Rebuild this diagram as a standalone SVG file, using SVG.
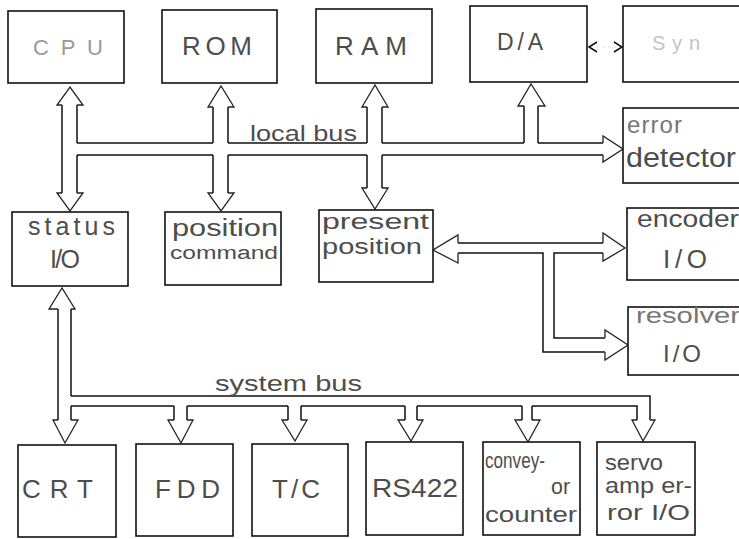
<svg xmlns="http://www.w3.org/2000/svg" width="739" height="539" viewBox="0 0 739 539">
<style>
  .bx{fill:#fff;stroke:#111;stroke-width:1.6}
  .ln{fill:none;stroke:#111;stroke-width:1.5;stroke-linejoin:miter}
  .hd{fill:#fff;stroke:#222;stroke-width:1.3;stroke-linejoin:miter}
  .t{font-family:"Liberation Sans",Arial,sans-serif;fill:#4d4d4d}
  .faint{fill:#9a9a9a}
</style>
<rect width="739" height="539" fill="#fff"/>

<g id="connectors">
  <!-- local bus -->
  <path class="ln" d="M62,105 V193 M77,105 V143 M77,155 V193"/>
  <path class="hd" d="M62,105 H57 L70,87 L83,105 H77"/>
  <path class="hd" d="M62,193 H57 L70,211 L83,193 H77"/>
  <path class="ln" d="M213,107 V143 M228,107 V143 M213,155 V193 M228,155 V193"/>
  <path class="hd" d="M213,107 H208 L221,86 L234,107 H228"/>
  <path class="hd" d="M213,193 H208 L221,211 L234,193 H228"/>
  <path class="ln" d="M367,107 V143 M382,107 V143 M367,155 V188 M382,155 V188"/>
  <path class="hd" d="M367,107 H362 L375,85 L388,107 H382"/>
  <path class="hd" d="M367,188 H362 L375,209 L388,188 H382"/>
  <path class="ln" d="M524,106 V143 M538,106 V143"/>
  <path class="hd" d="M524,106 H518 L531,84 L545,106 H538"/>
  <path class="ln" d="M77,143 H213 M228,143 H367 M382,143 H524 M538,143 H603"/>
  <path class="ln" d="M77,155 H213 M228,155 H367 M382,155 H603"/>
  <path class="hd" d="M603,143 V136 L623,149 L603,162 V155"/>
  <!-- D/A <-> Syn -->
  <path fill="none" stroke="#e2e2e2" stroke-width="1" stroke-dasharray="3 3" d="M590,47 H621"/>
  <path class="ln" stroke-width="1.1" d="M597,42 L589,47 L597,52 M614,42 L622,47 L614,52"/>
  <!-- present position bus -->
  <path class="ln" d="M458,243 H603 M458,253 H543 V352 H605 M603,253 H554 V338 H605"/>
  <path class="hd" d="M458,243 V235 L433,250 L458,263 V253"/>
  <path class="hd" d="M603,243 V233 L625,248 L603,261 V253"/>
  <path class="hd" d="M605,338 V330 L628,345 L605,360 V352"/>
  <!-- system bus -->
  <path class="ln" d="M58,309 V420 M71,309 V396 M71,406 V420"/>
  <path class="hd" d="M58,309 H49 L62,288 L75,309 H71"/>
  <path class="hd" d="M58,420 H53 L65,443 L78,420 H71"/>
  <path class="ln" d="M71,396 H650 V420"/>
  <path class="ln" d="M71,406 H174 M187,406 H288 M301,406 H405 M417,406 H522 M532,406 H637 V420"/>
  <path class="ln" d="M174,406 V420 M187,406 V420 M288,406 V420 M301,406 V420 M405,406 V420 M417,406 V420 M522,406 V420 M532,406 V420"/>
  <path class="hd" d="M174,420 H168 L181,443 L193,420 H187"/>
  <path class="hd" d="M288,420 H282 L295,441 L307,420 H301"/>
  <path class="hd" d="M405,420 H398 L411,441 L423,420 H417"/>
  <path class="hd" d="M522,420 H515 L528,442 L540,420 H532"/>
  <path class="hd" d="M637,420 H632 L643,441 L655,420 H650"/>
</g>

<text class="t" x="250" y="141" font-size="22" textLength="107" lengthAdjust="spacingAndGlyphs">local bus</text>
<text class="t" x="215" y="391" font-size="22" textLength="147" lengthAdjust="spacingAndGlyphs">system bus</text>

<g id="cpu"><rect class="bx" x="8" y="11" width="116" height="72"/>
  <text class="t faint" x="33" y="55" font-size="22" textLength="70" lengthAdjust="spacing">CPU</text></g>
<g id="rom"><rect class="bx" x="162" y="10" width="115" height="73"/>
  <text class="t" x="182" y="55" font-size="26" textLength="70" lengthAdjust="spacing">ROM</text></g>
<g id="ram"><rect class="bx" x="316" y="9" width="116" height="74"/>
  <text class="t" x="335" y="55" font-size="26" textLength="72" lengthAdjust="spacing">RAM</text></g>
<g id="da"><rect class="bx" x="470" y="6" width="117" height="76"/>
  <text class="t" x="497" y="50" font-size="23" textLength="46" lengthAdjust="spacing">D/A</text></g>
<g id="syn"><rect class="bx" x="623" y="6" width="130" height="76"/>
  <text class="t" x="652" y="50" font-size="20" textLength="48" lengthAdjust="spacing" style="fill:#c4c4c4">Syn</text></g>
<g id="error-detector"><rect class="bx" x="623" y="108" width="130" height="75"/>
  <text class="t" x="627" y="133" font-size="24" textLength="55" lengthAdjust="spacing" style="fill:#777">error</text>
  <text class="t" x="626" y="167" font-size="27" textLength="110" lengthAdjust="spacingAndGlyphs">detector</text></g>

<g id="status-io"><rect class="bx" x="12" y="212" width="116" height="74"/>
  <text class="t" x="28" y="235" font-size="25" textLength="87" lengthAdjust="spacing">status</text>
  <text class="t" x="50" y="268" font-size="25" textLength="30" lengthAdjust="spacing">I/O</text></g>
<g id="position-command"><rect class="bx" x="165" y="212" width="116" height="73"/>
  <text class="t" x="172" y="236" font-size="23" textLength="106" lengthAdjust="spacingAndGlyphs">position</text>
  <text class="t" x="170" y="259" font-size="18" textLength="108" lengthAdjust="spacingAndGlyphs">command</text></g>
<g id="present-position"><rect class="bx" x="319" y="210" width="114" height="72"/>
  <text class="t" x="322" y="229" font-size="22" textLength="107" lengthAdjust="spacingAndGlyphs">present</text>
  <text class="t" x="322" y="254" font-size="22" textLength="100" lengthAdjust="spacingAndGlyphs">position</text></g>
<g id="encoder-io"><rect class="bx" x="627" y="208" width="130" height="72"/>
  <text class="t" x="637" y="227" font-size="23" textLength="102" lengthAdjust="spacingAndGlyphs">encoder</text>
  <text class="t" x="663" y="268" font-size="26" textLength="44" lengthAdjust="spacing">I/O</text></g>
<g id="resolver-io"><rect class="bx" x="628" y="307" width="130" height="68"/>
  <text class="t" x="636" y="323" font-size="22" textLength="104" lengthAdjust="spacingAndGlyphs" style="fill:#777">resolver</text>
  <text class="t" x="663" y="362" font-size="24" textLength="38" lengthAdjust="spacing">I/O</text></g>

<g id="crt"><rect class="bx" x="18" y="445" width="98" height="92"/>
  <text class="t" x="22" y="498" font-size="26" textLength="71" lengthAdjust="spacing">CRT</text></g>
<g id="fdd"><rect class="bx" x="136" y="444" width="97" height="92"/>
  <text class="t" x="155" y="498" font-size="26" textLength="65" lengthAdjust="spacing">FDD</text></g>
<g id="tc"><rect class="bx" x="252" y="444" width="96" height="92"/>
  <text class="t" x="272" y="498" font-size="26" textLength="48" lengthAdjust="spacing">T/C</text></g>
<g id="rs422"><rect class="bx" x="366" y="442" width="97" height="93"/>
  <text class="t" x="372" y="497" font-size="26" textLength="86" lengthAdjust="spacingAndGlyphs">RS422</text></g>
<g id="conveyor-counter"><rect class="bx" x="483" y="442" width="97" height="93"/>
  <text class="t" x="485" y="468" font-size="22" textLength="60" lengthAdjust="spacingAndGlyphs">convey-</text>
  <text class="t" x="551" y="494" font-size="22" textLength="19" lengthAdjust="spacingAndGlyphs">or</text>
  <text class="t" x="485" y="522" font-size="22" textLength="92" lengthAdjust="spacingAndGlyphs">counter</text></g>
<g id="servo-amp-error-io"><rect class="bx" x="597" y="442" width="98" height="93"/>
  <text class="t" x="605" y="470" font-size="22" textLength="58" lengthAdjust="spacingAndGlyphs">servo</text>
  <text class="t" x="605" y="493" font-size="22" textLength="87" lengthAdjust="spacingAndGlyphs">amp er-</text>
  <text class="t" x="607" y="520" font-size="22" textLength="83" lengthAdjust="spacingAndGlyphs">ror I/O</text></g>
</svg>
